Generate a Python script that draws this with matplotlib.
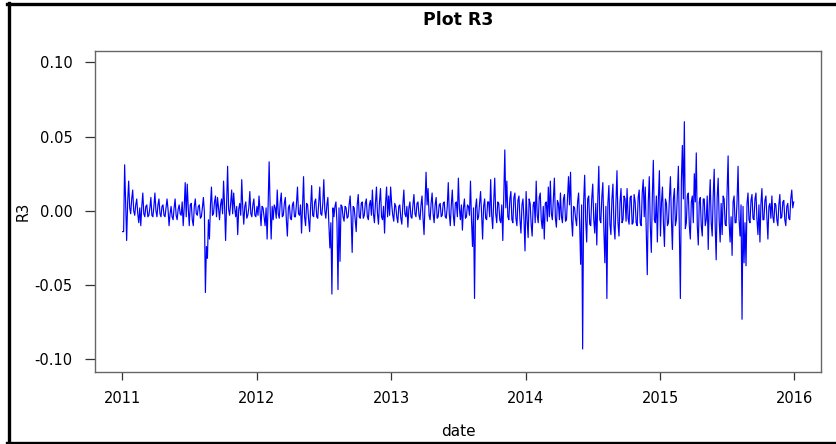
import numpy as np
import pandas as pd
import matplotlib
matplotlib.use("Agg")
import matplotlib.pyplot as plt
import matplotlib.dates as mdates
from matplotlib.ticker import FormatStrFormatter
from matplotlib.lines import Line2D

plt.rcParams['font.family'] = ['DejaVu Sans']
plt.rcParams['axes.unicode_minus'] = False

# R3 returns (units of 0.001), one list per year
r3_2011 = [-14, -14, 31, 5, -20, 6, 20, 2, -2, 8, 14, 0, -3, 4, 8, -2, -8, 2,
           -10, 3, 12, -2, -4, 3, 4, -4, -3, 2, 9, -3, -4, 3, 12, 0, -4, 4, 8,
           -2, -4, 3, 4, -3, -4, 2, 8, 1, -10, -2, 3, -4, -6, 2, 8, -3, -6, 1,
           4, -2, -3, 6, -10, 2, 19, -4, 18, 2, -10, 4, 5, -6, -10, 3, 8, -2,
           -3, 3, 4, -5, -4, 2, 9, -1, -55, -24, -32, -6, -19, 4, 16, -3, -2, 6,
           10, -4, 9, 2, -6, 4, 8, -2, 20, 3, -20, 4, 30, 1, -3, 5, 14, -2, 12,
           2, -4, 3, -16, 1, 5, -3, 21, 2, -9, 3, 6, -5, -3, 2, 13, -2, -4, 4,
           8, -3, -4]
r3_2012 = [3, -3, 10, 0, -10, 3, 2, -4, -10, 2, -19, 4, 33, 2, -19, 3, -6, 4,
           2, -5, 14, -2, -5, 6, 12, -4, -3, 5, 9, -6, -17, 2, 4, -5, -6, 4, 6,
           -4, -4, 5, 16, -2, -3, 4, -15, 3, 23, -4, -10, 5, 4, -6, -14, 3, 17,
           -3, -4, 6, 8, -4, -5, 6, 16, -2, -3, 5, 21, 0, -5, 4, 9, -9, -25, -8,
           -56, 2, -4, 3, 6, -8, -53, 2, -34, 4, 3, -4, -7, 3, 2, -5, -4, 4,
           10, -4, -28, 3, 2, -6, -14, 4, 11, -4, -5, 5, 6, -5, -3, 5, 8, -4,
           -6, 4, 7, -3, 14, -2, -8, 5, 16, -2, -9, 6, 15, -4, -6, 3, -15, 5,
           16, -4, 10, -3, 16]
r3_2013 = [4, -3, -7, 5, 3, -4, -8, 3, 4, -5, -9, 4, 14, -2, -4, 3, -11, 2, 6,
           -4, -5, 4, 11, -2, -4, 5, 6, -3, -6, 4, 10, -5, -16, 6, 26, 4, 15,
           -3, -6, 5, 12, -2, -8, 4, 9, -5, -4, 4, 5, -4, -3, 5, 6, -4, -5, 3,
           19, -2, -10, 4, 14, -3, -10, 5, 6, -4, 22, 2, -6, 4, -13, 2, 8, -5,
           -4, 4, 3, -3, 20, -6, -24, 2, -59, 2, 8, -6, -4, 5, 13, -2, -19, 3,
           8, -5, -6, 6, 6, -4, 21, -3, -12, 6, 22, -2, -8, 6, 5, -6, -8, 4,
           -20, 10, 41, 2, 20, -4, -6, 8, 13, -6, -8, 9, 12, -5, -10, 7, 10, -6,
           -15, 4, 8, -6, -27]
r3_2014 = [13, -6, -18, 8, 5, -9, -17, 4, 6, -8, 20, -3, -8, 9, 12, -6, -12, 3,
           -19, 5, 6, -7, 16, -4, 20, -2, -6, 8, 22, -5, -11, 7, 5, -6, 12, -4,
           -8, 8, 11, -7, -6, 9, 23, 4, 26, -6, -17, 3, 2, -5, -10, 6, 12, -8,
           -36, 4, -93, 6, 24, -6, -21, 8, 10, -9, -10, 8, 18, -6, -15, 5,
           -23, 8, 30, -6, -8, 9, 19, -12, -35, 3, -59, 5, 17, -9, -16, 8, 18,
           -10, -19, 6, 27, -8, -17, 6, 15, -8, -6, 10, 8, -7, 15, -5, -9, 9,
           10, -9, -8, 11, 6, -8, -10, 9, 14, -8, -10, 12, 21, -4, 16, -12, -43,
           6, 23, -10, -28, 9, 34, -6, -8, 10, -21, 8, 27]
r3_2015 = [-17, 6, 16, -9, -24, 8, 5, -10, -8, 9, 23, -6, -26, 8, 15, -10, -6,
           12, 30, -14, -59, 20, 44, 8, 60, -12, -8, 10, 12, -10, -19, 6, 10,
           -8, 25, 6, 39, -10, -23, 6, 9, -10, -17, 8, 8, -10, -6, 10, -26, 4,
           21, -8, -17, 10, 28, -10, -33, 9, 22, -6, -21, 5, -16, 10, 8, -9,
           -10, 14, 37, -8, -21, -4, -30, 6, 10, -8, -8, 7, 30, -6, -17, 4,
           -73, 3, -35, -8, -37, 5, 12, -6, -8, 7, 11, -5, -6, 8, 12, -6, -16,
           4, -21, 5, 15, -6, -6, 7, 10, -5, -19, 3, 5, -5, 10, -4, -8, 5, 4,
           -6, -10, 4, 11, -5, -4, 6, 7, -6, -10, 3, 5, -5, -6, 8, 14, 2, 6]

years = [2011, 2012, 2013, 2014, 2015]
yearly = [r3_2011, r3_2012, r3_2013, r3_2014, r3_2015]

dates = []
values = []
for yr, vals in zip(years, yearly):
    d = pd.date_range(f"{yr}-01-02", f"{yr}-12-30", periods=len(vals))
    dates.extend(d)
    values.extend(v / 1000.0 for v in vals)
dates = pd.DatetimeIndex(dates)
values = np.array(values)

fig = plt.figure(figsize=(8.37, 4.44), dpi=100)
ax = fig.add_axes([95 / 837, 72 / 444, 726 / 837, 321 / 444])

ax.plot(dates, values, color='#0000ff', lw=0.85)

ax.set_xlim(pd.Timestamp("2010-10-19"), pd.Timestamp("2016-03-13"))
ax.set_ylim(-0.1085, 0.1076)

ax.set_xticks([pd.Timestamp(f"{y}-01-01") for y in range(2011, 2017)])
ax.xaxis.set_major_formatter(mdates.DateFormatter("%Y"))
ax.set_yticks([-0.10, -0.05, 0.00, 0.05, 0.10])
ax.yaxis.set_major_formatter(FormatStrFormatter('%.2f'))

ax.tick_params(axis='x', direction='out', length=6, width=0.9,
               color='#333333', labelsize=10.5, pad=7.5)
ax.tick_params(axis='y', direction='out', length=7.5, width=0.9,
               color='#333333', labelsize=10.5, pad=8.5)
for sp in ax.spines.values():
    sp.set_color('#666666')
    sp.set_linewidth(1.0)

ax.set_title("Plot R3", fontsize=12.5, fontweight='bold', pad=19)
ax.set_xlabel("date", fontsize=11, labelpad=13)
ax.set_ylabel("R3", fontsize=10.5, labelpad=3)

# black frame around the screenshot (left, top, bottom)
fig.add_artist(Line2D([9 / 837, 9 / 837], [0, 1 - 3 / 444], color='black', lw=2.4,
                      transform=fig.transFigure))
fig.add_artist(Line2D([7.5 / 837, 1], [1 - 4.5 / 444, 1 - 4.5 / 444], color='black',
                      lw=2.4, transform=fig.transFigure))
fig.add_artist(Line2D([7.5 / 837, 1], [1.5 / 444, 1.5 / 444], color='black', lw=2.4,
                      transform=fig.transFigure))

fig.savefig("out.png", dpi=100)
